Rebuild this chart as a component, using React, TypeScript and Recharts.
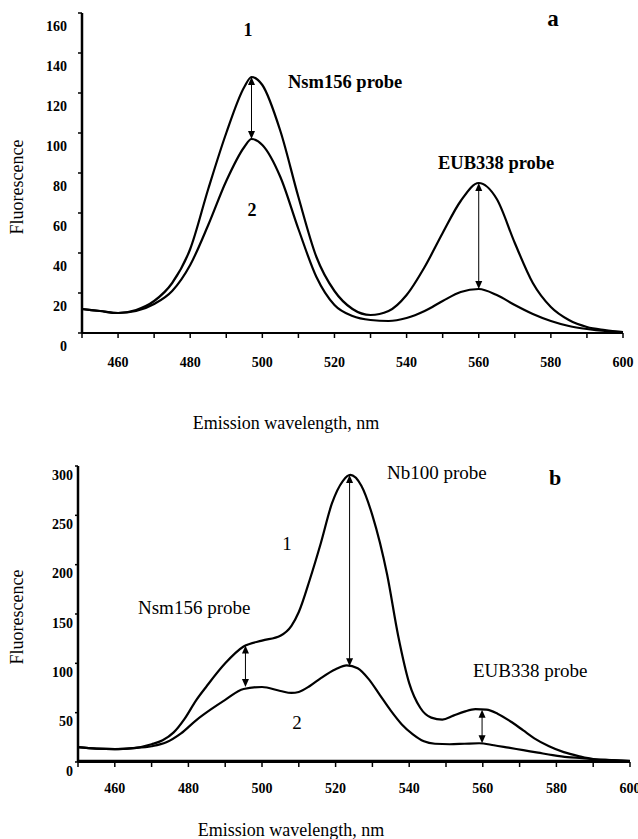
import React from "react";
import { LineChart, Line, XAxis, YAxis, ReferenceLine } from "recharts";

const SERIF = "'Liberation Serif', 'Times New Roman', serif";

// panel a: emission wavelength (nm) and fluorescence readings
const wavelengthsA = [450, 455, 460, 465, 470, 475, 480, 485, 490, 495, 497, 500, 505, 510, 515, 520, 525, 530, 535, 540, 545, 550, 555, 560, 565, 570, 575, 580, 585, 590, 595, 600];
const curveA1 = [12, 11, 10, 11.5, 16, 25, 42, 72, 100, 123, 128, 124, 101, 68, 38, 21, 12, 9, 11, 19, 33, 50, 66, 75, 67, 45, 25, 13, 6.5, 3, 1.5, 0.5];
const curveA2 = [12, 11, 10, 11, 14.5, 21, 34, 54, 76, 93, 97, 94, 78, 52, 28, 14, 8.5, 6.5, 6, 7.5, 11, 16, 20.5, 22, 19, 14, 9.5, 6, 3.5, 2, 1, 0.5];

// panel b: curve 1 (upper), curve 2 (lower), blank trace
const wavelengthsB1 = [450, 455, 460, 465, 470, 473, 476, 479, 482, 485, 490, 495, 500, 505, 508, 510, 513, 516, 519, 522, 524, 527, 530, 534, 537, 540, 543, 546, 549, 552, 555, 558, 561, 564, 568, 571, 574, 578, 582, 586, 590, 595, 600];
const curveB1 = [15, 13.5, 13, 14, 18, 22, 30, 44, 62, 77, 100, 117, 123, 128, 138, 152, 185, 222, 262, 285, 291, 280, 250, 190, 128, 80, 55, 45, 43, 47, 51, 53.5, 53, 49, 40, 32, 24, 16, 10, 6, 3, 2, 1];
const wavelengthsB2 = [450, 455, 460, 465, 470, 474, 478, 482, 486, 490, 495, 500, 505, 508, 510, 513, 516, 520, 523, 526, 529, 532, 535, 538, 541, 544, 547, 551, 555, 559, 563, 567, 571, 575, 579, 583, 587, 591, 595, 600];
const curveB2 = [15, 13.5, 13, 14, 16, 20, 29, 42, 53, 63, 74, 76, 72, 70, 71, 77, 85, 94, 98, 95, 84, 68, 52, 38, 28, 21, 18.5, 18, 18.5, 19, 17, 14.5, 12, 9.5, 7, 5, 4, 2.5, 2, 1];
const wavelengthsBlank = [450, 480, 510, 540, 570, 600];
const curveBlank = [1.5, 1.5, 1.5, 1.5, 1.5, 1.5];

// double arrows between the two curves
const arrowsA = [
  { wl: 497, top: 128, bottom: 97 },
  { wl: 560, top: 75, bottom: 22 },
];
const arrowsB = [
  { wl: 495.5, top: 118, bottom: 76 },
  { wl: 523.8, top: 291, bottom: 97 },
  { wl: 559.8, top: 53, bottom: 19 },
];

const xTicks = [450, 460, 470, 480, 490, 500, 510, 520, 530, 540, 550, 560, 570, 580, 590, 600];
const yTicksA = [0, 20, 40, 60, 80, 100, 120, 140, 160];
const yTicksB = [0, 50, 100, 150, 200, 250, 300];

const toRows = (xs: number[], ys: number[]) => xs.map((wl, i) => ({ wl, v: ys[i] }));

const dataA = wavelengthsA.map((wl, i) => ({ wl, c1: curveA1[i], c2: curveA2[i] }));

const XTick = ({ x, y, payload, dy }: any) => {
  const v = payload.value;
  if (v < 460 || v % 20 !== 0) return null;
  return (
    <text x={x} y={y + dy} textAnchor="middle" dominantBaseline="central" fontFamily={SERIF} fontWeight="bold" fontSize={14} fill="#000">
      {v}
    </text>
  );
};

const YTick = ({ x, y, payload, dy }: any) => (
  <text x={x} y={y + dy} textAnchor="end" dominantBaseline="central" fontFamily={SERIF} fontWeight="bold" fontSize={14} fill="#000">
    {payload.value}
  </text>
);

const Arrow = (props: any) => {
  const { x1, y1, x2, y2 } = props;
  const top = Math.min(y1, y2);
  const bot = Math.max(y1, y2);
  const h = 8;
  const w = 3.5;
  return (
    <g>
      <line x1={x1} y1={top + 4} x2={x2} y2={bot - 4} stroke="#000" strokeWidth={1} />
      <polygon points={`${x1},${top} ${x1 - w},${top + h} ${x1 + w},${top + h}`} fill="#000" />
      <polygon points={`${x2},${bot} ${x2 - w},${bot - h} ${x2 + w},${bot - h}`} fill="#000" />
    </g>
  );
};

const Txt = ({ x, y, children, size = 18, bold = false, anchor = "start", rotate = false }: any) => (
  <text
    x={x}
    y={y}
    textAnchor={anchor}
    dominantBaseline="central"
    fontFamily={SERIF}
    fontWeight={bold ? "bold" : "normal"}
    fontSize={size}
    fill="#000"
    transform={rotate ? `rotate(-90 ${x} ${y})` : undefined}
  >
    {children}
  </text>
);

export default function App() {
  return (
    <div style={{ position: "absolute", left: 0, top: 0, width: 638, height: 839, background: "#fff" }}>
      {/* panel a */}
      <div style={{ position: "absolute", left: 0, top: 0 }}>
        <LineChart width={638} height={400} data={dataA} margin={{ top: 13, right: 15, left: 42, bottom: 37 }}>
          <XAxis
            dataKey="wl"
            type="number"
            domain={[450, 600]}
            ticks={xTicks}
            interval={0}
            height={30}
            stroke="#000"
            strokeWidth={2}
            tickSize={5}
            tickLine={{ stroke: "#000", strokeWidth: 1.5 }}
            tick={(p: any) => <XTick {...p} dy={22} />}
          />
          <YAxis
            type="number"
            domain={[0, 160]}
            ticks={yTicksA}
            interval={0}
            width={40}
            stroke="#000"
            strokeWidth={2.5}
            tickSize={4}
            tickMargin={11}
            tickLine={{ stroke: "#000", strokeWidth: 1.5 }}
            tick={(p: any) => <YTick {...p} dy={13} />}
          />
          <Line dataKey="c1" type="monotone" stroke="#000" strokeWidth={2.2} dot={false} activeDot={false} isAnimationActive={false} />
          <Line dataKey="c2" type="monotone" stroke="#000" strokeWidth={2.2} dot={false} activeDot={false} isAnimationActive={false} />
          {arrowsA.map((a, i) => (
            <ReferenceLine
              key={`aa-${i}`}
              segment={[{ x: a.wl, y: a.top }, { x: a.wl, y: a.bottom }]}
              shape={<Arrow />}
              ifOverflow="visible"
            />
          ))}
        </LineChart>
      </div>

      {/* panel b */}
      <div style={{ position: "absolute", left: 0, top: 440 }}>
        <LineChart width={638} height={399} margin={{ top: 26, right: 8, left: 38, bottom: 47 }}>
          <XAxis
            dataKey="wl"
            type="number"
            domain={[450, 600]}
            ticks={xTicks}
            interval={0}
            height={30}
            stroke="#000"
            strokeWidth={2}
            tickSize={5}
            tickLine={{ stroke: "#000", strokeWidth: 1.5 }}
            tick={(p: any) => <XTick {...p} dy={19} />}
          />
          <YAxis
            type="number"
            domain={[0, 300]}
            ticks={yTicksB}
            interval={0}
            width={40}
            stroke="#000"
            strokeWidth={2.5}
            tickSize={3}
            tickMargin={2}
            tickLine={{ stroke: "#000", strokeWidth: 1.5 }}
            tick={(p: any) => <YTick {...p} dy={9} />}
          />
          <Line data={toRows(wavelengthsBlank, curveBlank)} dataKey="v" type="monotone" stroke="#000" strokeWidth={1.5} dot={false} activeDot={false} isAnimationActive={false} />
          <Line data={toRows(wavelengthsB1, curveB1)} dataKey="v" type="monotone" stroke="#000" strokeWidth={2.2} dot={false} activeDot={false} isAnimationActive={false} />
          <Line data={toRows(wavelengthsB2, curveB2)} dataKey="v" type="monotone" stroke="#000" strokeWidth={2.2} dot={false} activeDot={false} isAnimationActive={false} />
          {arrowsB.map((a, i) => (
            <ReferenceLine
              key={`ab-${i}`}
              segment={[{ x: a.wl, y: a.top }, { x: a.wl, y: a.bottom }]}
              shape={<Arrow />}
              ifOverflow="visible"
            />
          ))}
        </LineChart>
      </div>

      {/* labels and annotations */}
      <svg width={638} height={839} style={{ position: "absolute", left: 0, top: 0, pointerEvents: "none" }}>
        <Txt x={248} y={30} bold anchor="middle">1</Txt>
        <Txt x={252} y={210} bold anchor="middle">2</Txt>
        <Txt x={288} y={82} bold size={18.5}>Nsm156 probe</Txt>
        <Txt x={438} y={163} bold size={18.5}>EUB338 probe</Txt>
        <Txt x={553} y={18} bold size={23} anchor="middle">a</Txt>
        <Txt x={17} y={187} size={18} anchor="middle" rotate>Fluorescence</Txt>
        <Txt x={286} y={423} size={18} anchor="middle">Emission wavelength, nm</Txt>

        <Txt x={387} y={472} size={19}>Nb100 probe</Txt>
        <Txt x={555} y={477} bold size={22} anchor="middle">b</Txt>
        <Txt x={287} y={543} size={19} anchor="middle">1</Txt>
        <Txt x={138} y={607} size={19}>Nsm156 probe</Txt>
        <Txt x={297} y={722} size={19} anchor="middle">2</Txt>
        <Txt x={473} y={670} size={19}>EUB338 probe</Txt>
        <Txt x={17} y={617} size={18} anchor="middle" rotate>Fluorescence</Txt>
        <Txt x={291} y={830} size={18} anchor="middle">Emission wavelength, nm</Txt>
      </svg>
    </div>
  );
}
